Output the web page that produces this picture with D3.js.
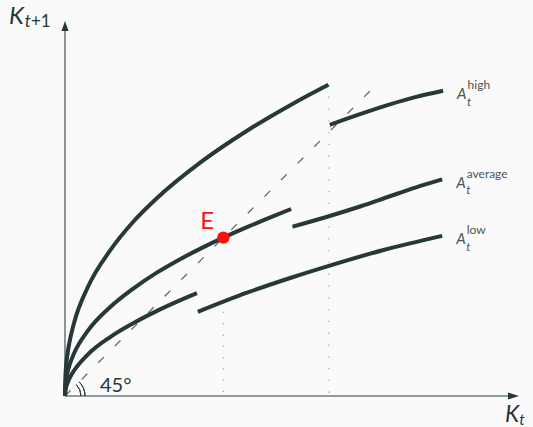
<!DOCTYPE html>
<html><head><meta charset="utf-8">
<script src="https://cdn.jsdelivr.net/npm/d3@7"></script>
<style>body{margin:0;background:#fafafa}svg{display:block}text{font-family:Lato,"Open Sans",sans-serif}</style>
</head><body><svg id="c" width="533" height="427"></svg>
<script>
// capital stock K_t (x) and K_{t+1} (y)
const kHigh1 = [0,0.01,0.05,0.1,0.2,0.5,1,1.5,2,3,4,5,5.79];
const vHigh1 = [0,0.44,0.89,1.19,1.61,2.39,3.21,3.83,4.33,5.15,5.83,6.42,6.84];
const kHigh2 = [5.82,6.5,7.14,7.7,8.31];
const vHigh2 = [5.96,6.20,6.41,6.57,6.71];
const kAvg1 = [0,0.01,0.05,0.1,0.2,0.5,1,1.5,2,2.5,3,3.48,4,4.5,4.97];
const vAvg1 = [0,0.24,0.49,0.68,0.94,1.43,1.96,2.36,2.70,2.99,3.25,3.48,3.71,3.92,4.11];
const kAvg2 = [5.0,5.8,6.5,7.14,7.7,8.29];
const vAvg2 = [3.72,3.95,4.17,4.39,4.58,4.76];
const kLow1 = [0,0.01,0.05,0.1,0.2,0.5,1,1.5,2,2.5,2.9];
const vLow1 = [0,0.12,0.27,0.39,0.56,0.91,1.30,1.60,1.86,2.09,2.26];
const kLow2 = [2.92,4,5,5.8,7,8.29];
const vLow2 = [1.85,2.27,2.61,2.86,3.21,3.52];
const diagonal = [0, 6.85];
const steadyState = [3.48, 3.48];      // point E
const threshold = 5.8;
const dottedE = [2.1, 0];
const dottedT = [6.84, 0];
const seriesLabels = ["high","average","low"];

const svg = d3.select("#c");
const x = d3.scaleLinear().domain([0,10]).range([65,520]);
const y = d3.scaleLinear().domain([0,8.3]).range([396,18.35]);
const dark = "#263838", axisC = "#6f7d7d";

svg.append("rect").attr("width",533).attr("height",427).attr("fill","#fafafa");

// dotted verticals
svg.append("line").attr("x1",x(steadyState[0])).attr("x2",x(steadyState[0]))
  .attr("y1",y(dottedE[0])).attr("y2",y(dottedE[1]))
  .attr("stroke","#a9b0b0").attr("stroke-width",1.3).attr("stroke-dasharray","1.3 10");
svg.append("line").attr("x1",x(threshold)).attr("x2",x(threshold))
  .attr("y1",y(dottedT[0])).attr("y2",y(dottedT[1]))
  .attr("stroke","#a9b0b0").attr("stroke-width",1.3).attr("stroke-dasharray","1.3 10.5");

// 45 degree line
svg.append("line").attr("x1",x(diagonal[0])).attr("y1",y(diagonal[0]))
  .attr("x2",x(diagonal[1])).attr("y2",y(diagonal[1]))
  .attr("stroke","#55605f").attr("stroke-width",1.2).attr("stroke-dasharray","8 15.5");

// axes
svg.append("line").attr("x1",x(0)).attr("y1",y(0)).attr("x2",x(0)).attr("y2",28)
  .attr("stroke",axisC).attr("stroke-width",1.6);
svg.append("line").attr("x1",x(0)).attr("y1",y(0)).attr("x2",512).attr("y2",y(0))
  .attr("stroke",axisC).attr("stroke-width",1.6);
svg.append("path").attr("d",`M${x(0)},21 L${x(0)-3.5},31 L${x(0)+3.5},31 Z`).attr("fill",dark);
svg.append("path").attr("d",`M519,${y(0)} L508,${y(0)-3.5} L508,${y(0)+3.5} Z`).attr("fill",dark);

// angle arcs
[16,20].forEach(r=>{
  const arc = d3.arc()({innerRadius:r,outerRadius:r,startAngle:Math.PI/4,endAngle:Math.PI/2});
  svg.append("path").attr("d",arc).attr("transform",`translate(${x(0)},${y(0)})`)
    .attr("fill","none").attr("stroke",dark).attr("stroke-width",1);
});

// curves
const line = d3.line().x(d=>x(d[0])).y(d=>y(d[1])).curve(d3.curveMonotoneX);
const segs = [[kHigh1,vHigh1],[kHigh2,vHigh2],[kAvg1,vAvg1],[kAvg2,vAvg2],[kLow1,vLow1],[kLow2,vLow2]];
segs.forEach(([k,v])=>{
  svg.append("path").attr("d",line(k.map((d,i)=>[d,v[i]])))
    .attr("fill","none").attr("stroke",dark).attr("stroke-width",4);
});

// E point
svg.append("circle").attr("cx",x(steadyState[0])).attr("cy",y(steadyState[1])).attr("r",6.2).attr("fill","#ff1010");
svg.append("text").attr("x",x(steadyState[0])-23).attr("y",y(steadyState[1])-8.5)
  .attr("fill","#ff1010").attr("font-size",24).text("E");

// right labels
const ends = [[kHigh2,vHigh2],[kAvg2,vAvg2],[kLow2,vLow2]];
ends.forEach(([k,v],i)=>{
  const ex = x(k[k.length-1]), ey = y(v[v.length-1]);
  const g = svg.append("g").attr("fill","#4a5757");
  g.append("text").attr("x",ex+14).attr("y",ey+8.5).attr("font-size",15).attr("font-style","italic").text("A");
  g.append("text").attr("x",ex+24.5).attr("y",ey-1.5).attr("font-size",12).text(seriesLabels[i]);
  g.append("text").attr("x",ex+24).attr("y",ey+15).attr("font-size",12).attr("font-style","italic").text("t");
});

// axis titles
const yt = svg.append("text").attr("x",9).attr("y",24).attr("fill",dark);
yt.append("tspan").attr("font-size",24).attr("font-style","italic").text("K");
yt.append("tspan").attr("font-size",17).attr("dy",3).attr("dx",1).attr("font-style","italic").text("t");
yt.append("tspan").attr("font-size",17).text("+1");
const xt = svg.append("text").attr("x",505).attr("y",422).attr("fill",dark);
xt.append("tspan").attr("font-size",23).attr("font-style","italic").text("K");
xt.append("tspan").attr("font-size",15.5).attr("dy",3).attr("dx",0).attr("font-style","italic").text("t");

svg.append("text").attr("x",100).attr("y",392).attr("fill",dark).attr("font-size",20).text("45°");
</script></body></html>
